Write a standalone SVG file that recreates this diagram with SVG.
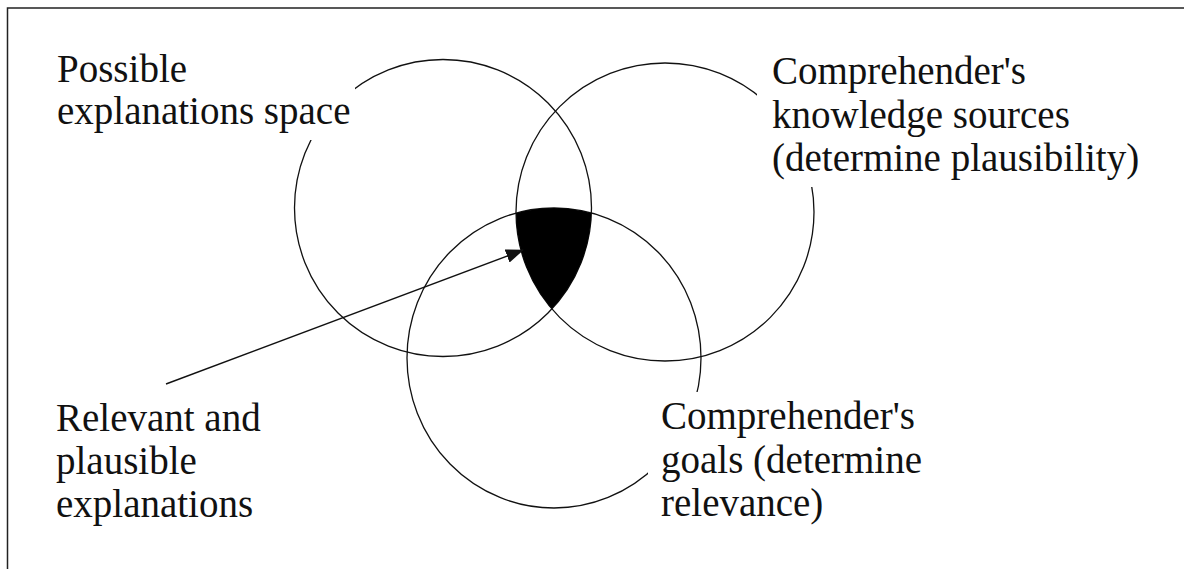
<svg xmlns="http://www.w3.org/2000/svg" width="1184" height="569" viewBox="0 0 1184 569">
  <style>
    .ring { fill: none; stroke: #111; stroke-width: 1.3; }
    .bg { fill: #fff; stroke: none; }
    .label { font-family: "Liberation Serif", "Times New Roman", serif; font-size: 39px; fill: #111; }
    .frame { fill: none; stroke: #222; stroke-width: 1.5; }
    .conn { stroke: #111; stroke-width: 1.4; fill: none; }
  </style>
  <defs>
    <marker id="ah" viewBox="0 0 18 14" refX="17" refY="7" markerWidth="18" markerHeight="14" markerUnits="userSpaceOnUse" orient="auto">
      <path d="M0,0 L18,7 L0,14 z" fill="#111"/>
    </marker>
    <clipPath id="clipKnowledge"><circle cx="665" cy="212" r="149"/></clipPath>
    <clipPath id="clipGoals"><ellipse cx="554" cy="358" rx="147" ry="150"/></clipPath>
  </defs>
  <rect x="0" y="0" width="1184" height="569" fill="#fff"/>
  <path class="frame" d="M7.5,569 V8 H1184"/>

  <g id="node-explanations-space">
    <circle class="ring" cx="443" cy="208" r="148.5"/>
    <rect class="bg" x="40" y="45" width="315" height="95"/>
    <text class="label" x="57" y="82">Possible</text>
    <text class="label" x="57" y="124">explanations space</text>
  </g>

  <g id="node-knowledge-sources">
    <circle class="ring" cx="665" cy="212" r="149"/>
    <rect class="bg" x="757" y="45" width="410" height="142"/>
    <text class="label" x="772" y="84">Comprehender's</text>
    <text class="label" x="772" y="127.5">knowledge sources</text>
    <text class="label" x="772" y="171">(determine plausibility)</text>
  </g>

  <g id="node-goals">
    <ellipse class="ring" cx="554" cy="358" rx="147" ry="150"/>
    <rect class="bg" x="648" y="392" width="300" height="140"/>
    <text class="label" x="661" y="429">Comprehender's</text>
    <text class="label" x="661" y="472.5">goals (determine</text>
    <text class="label" x="661" y="516">relevance)</text>
  </g>

  <g id="node-overlap">
    <g clip-path="url(#clipGoals)">
      <circle cx="443" cy="208" r="148.5" fill="#000" clip-path="url(#clipKnowledge)"/>
    </g>
  </g>

  <g id="node-relevant-plausible">
    <text class="label" x="56" y="431">Relevant and</text>
    <text class="label" x="56" y="474">plausible</text>
    <text class="label" x="56" y="517">explanations</text>
  </g>

  <g id="connectors">
    <line class="conn" x1="166" y1="384" x2="523" y2="250" marker-end="url(#ah)"/>
  </g>
</svg>
